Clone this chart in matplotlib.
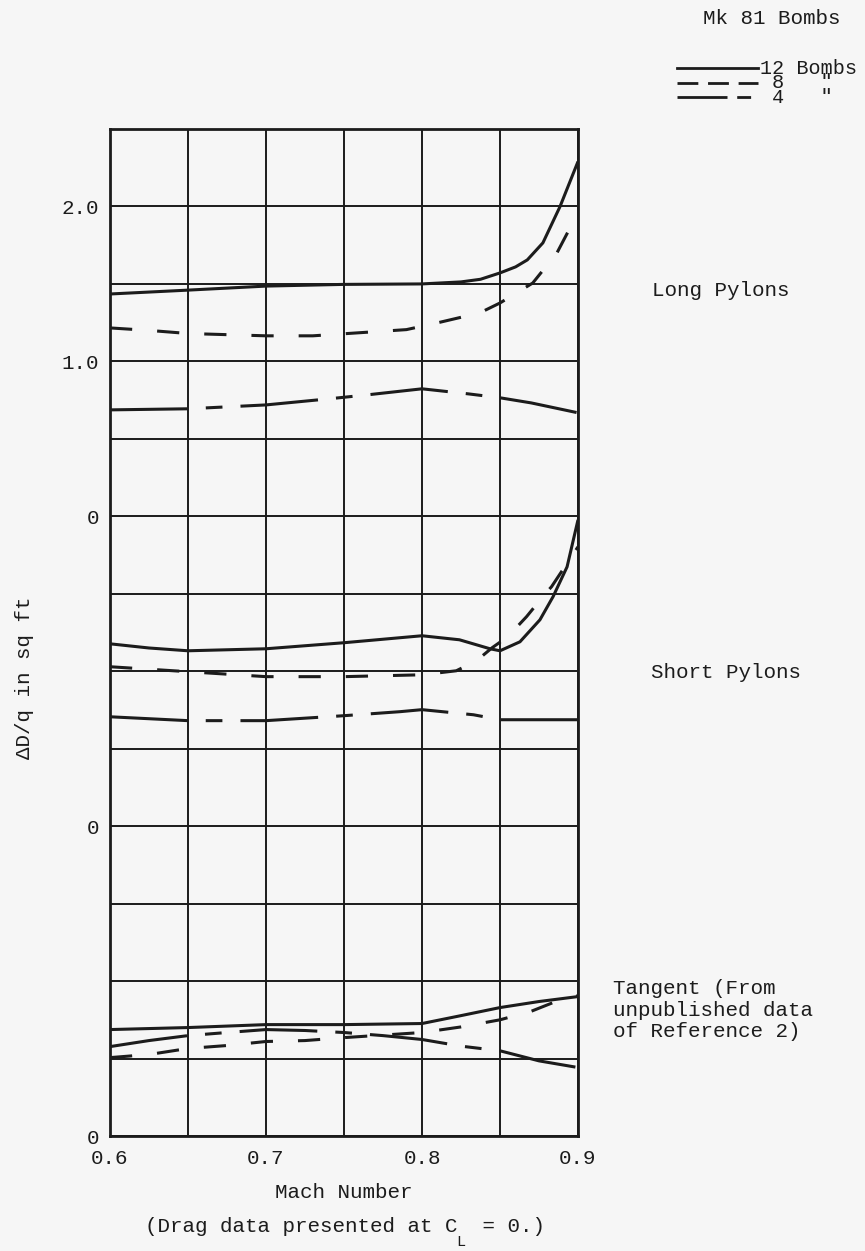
"""Mk 81 bombs drag increment vs Mach number, three pylon arrangements."""
import matplotlib

matplotlib.use("Agg")
import matplotlib.pyplot as plt
from matplotlib.lines import Line2D

# ---- data (panel-relative values, sq ft) ----
LONG_12_M = [0.60, 0.65, 0.70, 0.75, 0.80, 0.825, 0.8375, 0.85, 0.86, 0.8675, 0.8775, 0.8885, 0.90]
LONG_12 = [1.435, 1.46, 1.486, 1.497, 1.50, 1.513, 1.53, 1.571, 1.61, 1.655, 1.765, 2.0, 2.29]
LONG_8_M = [0.60, 0.625, 0.65, 0.70, 0.73, 0.76, 0.79, 0.81, 0.837, 0.85, 0.871, 0.8865, 0.90]
LONG_8 = [1.216, 1.20, 1.18, 1.165, 1.165, 1.185, 1.205, 1.249, 1.313, 1.377, 1.506, 1.70, 1.96]
LONG_4_M = [0.60, 0.65, 0.70, 0.74, 0.765, 0.80, 0.83, 0.85, 0.87, 0.90]
LONG_4 = [0.687, 0.694, 0.719, 0.758, 0.784, 0.823, 0.790, 0.765, 0.732, 0.668]

SHORT_12_M = [0.60, 0.625, 0.65, 0.70, 0.75, 0.80, 0.824, 0.8436, 0.85, 0.8628, 0.8756, 0.884, 0.893, 0.90]
SHORT_12 = [1.177, 1.15, 1.132, 1.145, 1.184, 1.229, 1.203, 1.145, 1.132, 1.19, 1.332, 1.481, 1.674, 1.977]
SHORT_8_M = [0.60, 0.65, 0.70, 0.75, 0.80, 0.822, 0.835, 0.845, 0.855, 0.867, 0.8795, 0.883, 0.90]
SHORT_8 = [1.029, 0.997, 0.965, 0.965, 0.977, 1.003, 1.068, 1.152, 1.223, 1.352, 1.506, 1.545, 1.803]
SHORT_4_M = [0.60, 0.65, 0.70, 0.75, 0.786, 0.80, 0.833, 0.85, 0.90]
SHORT_4 = [0.706, 0.681, 0.681, 0.713, 0.739, 0.752, 0.719, 0.687, 0.687]

TAN_12_M = [0.60, 0.65, 0.70, 0.75, 0.80, 0.825, 0.85, 0.875, 0.90]
TAN_12 = [0.687, 0.70, 0.719, 0.719, 0.726, 0.777, 0.829, 0.868, 0.90]
TAN_8_M = [0.60, 0.625, 0.65, 0.675, 0.70, 0.725, 0.75, 0.80, 0.825, 0.85, 0.87, 0.89, 0.90]
TAN_8 = [0.506, 0.526, 0.565, 0.584, 0.610, 0.616, 0.635, 0.668, 0.704, 0.750, 0.805, 0.885, 0.905]
TAN_4_M = [0.60, 0.625, 0.65, 0.675, 0.70, 0.725, 0.75, 0.775, 0.80, 0.825, 0.85, 0.875, 0.90]
TAN_4 = [0.577, 0.616, 0.648, 0.668, 0.687, 0.681, 0.668, 0.648, 0.623, 0.58, 0.55, 0.485, 0.442]

Y_TICKS = [0.0, 2.0, 4.0, 5.0, 6.0]
Y_TICK_LABELS = ["0", "0", "0", "1.0", "2.0"]
X_TICKS = [0.6, 0.7, 0.8, 0.9]
X_TICK_LABELS = ["0.6", "0.7", "0.8", "0.9"]
LEGEND_LABELS = ["12 Bombs", " 8   \"", " 4   \""]

# each panel shares one grid; its zero sits this far up the common scale
OFFSET_LONG = 4.0
OFFSET_SHORT = 2.0
OFFSET_TAN = 0.0

INK = "#1c1c1c"
PAPER = "#f6f6f6"
FONT = ["Liberation Mono", "DejaVu Sans Mono"]
FS = 15

plt.rcParams.update({
    "font.family": FONT,
    "lines.scale_dashes": False,
    "text.color": INK,
})

W, H = 865, 1251
fig = plt.figure(figsize=(W / 100, H / 100), dpi=100, facecolor=PAPER)


def fx(px):
    return px / W


def fy(py):
    return 1 - py / H


ax = fig.add_axes([fx(110), fy(1136), fx(578 - 110), (1136 - 129) / H])
ax.set_facecolor(PAPER)
ax.set_xlim(0.6, 0.9)
ax.set_ylim(0, 6.5)

ax.set_xticks(X_TICKS)
ax.set_xticklabels(X_TICK_LABELS)
ax.set_xticks([0.65, 0.75, 0.85], minor=True)
ax.set_yticks(Y_TICKS)
ax.set_yticklabels(Y_TICK_LABELS)
ax.set_yticks([0.5, 1.0, 1.5, 2.5, 3.0, 3.5, 4.5, 5.5], minor=True)
ax.tick_params(which="both", length=0, labelsize=FS, colors=INK)
ax.tick_params(axis="x", pad=9)
ax.tick_params(axis="y", pad=8)
ax.grid(True, which="both", color=INK, linewidth=1.4)
ax.set_axisbelow(True)
for sp in ax.spines.values():
    sp.set_color(INK)
    sp.set_linewidth(2.0)

SOLID = dict(color=INK, linewidth=2.2, linestyle="-")
DASH_8 = dict(color=INK, linewidth=2.2, linestyle=(0, (16, 18)))
DASH_4 = dict(color=INK, linewidth=2.2, linestyle=(0, (56, 13, 12, 13)))

curves = [
    (LONG_12_M, LONG_12, OFFSET_LONG, SOLID),
    (LONG_8_M, LONG_8, OFFSET_LONG, DASH_8),
    (LONG_4_M, LONG_4, OFFSET_LONG, DASH_4),
    (SHORT_12_M, SHORT_12, OFFSET_SHORT, SOLID),
    (SHORT_8_M, SHORT_8, OFFSET_SHORT, DASH_8),
    (SHORT_4_M, SHORT_4, OFFSET_SHORT, DASH_4),
    (TAN_12_M, TAN_12, OFFSET_TAN, SOLID),
    (TAN_8_M, TAN_8, OFFSET_TAN, DASH_8),
    (TAN_4_M, TAN_4, OFFSET_TAN, DASH_4),
]
for m, v, off, style in curves:
    ax.plot(m, [val + off for val in v], solid_capstyle="butt", dash_capstyle="butt", **style)

# panel names on the right
fig.text(fx(652), fy(290), "Long Pylons", fontsize=FS, va="center", ha="left")
fig.text(fx(651), fy(672), "Short Pylons", fontsize=FS, va="center", ha="left")
fig.text(fx(613), fy(1010), "Tangent (From\nunpublished data\nof Reference 2)", fontsize=FS,
         va="center", ha="left", linespacing=1.18)

# legend block, top right
fig.text(fx(703), fy(18), "Mk 81 Bombs", fontsize=FS, va="center", ha="left")
legend_styles = ["-", (0, (15, 7)), (0, (36, 7, 10, 30))]
for py, ls in zip([68, 83, 97], legend_styles):
    fig.add_artist(Line2D([fx(677), fx(758)], [fy(py), fy(py)], transform=fig.transFigure,
                          color=INK, linewidth=2.0, linestyle=ls))
fig.text(fx(760), fy(83), "\n".join(LEGEND_LABELS), fontsize=FS - 0.5, va="center", ha="left",
         linespacing=0.72)

# axis titles
fig.text(fx(25), fy(678), "\u0394D/q in sq ft", fontsize=FS, rotation=90, va="center", ha="center")
fig.text(fx(344), fy(1193), "Mach Number", fontsize=FS, va="center", ha="center")
note = fig.text(fx(345), fy(1226), "(Drag data presented at C  = 0.)", fontsize=FS,
                va="center", ha="center")
ax.annotate("L", xy=(25.3 / 32, 0.0), xycoords=note, fontsize=FS - 4, ha="center", va="top")

fig.savefig("out.png", dpi=100, facecolor=PAPER)
